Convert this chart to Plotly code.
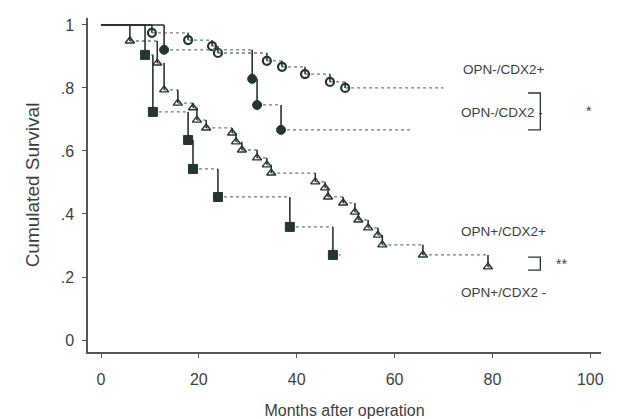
import plotly.graph_objects as go

# ---- data (months, cumulative survival) ----
neg_pos_months = [0, 10.4, 17.8, 22.7, 23.9, 33.9, 37.0, 41.7, 46.8, 49.9, 70.0]
neg_pos_surv = [1.0, 0.975, 0.952, 0.933, 0.911, 0.886, 0.867, 0.844, 0.819, 0.800, 0.800]

neg_neg_months = [0, 12.9, 30.9, 31.9, 36.8, 63.8]
neg_neg_surv = [1.0, 0.921, 0.829, 0.746, 0.667, 0.667]

pos_pos_months = [0, 5.9, 11.5, 12.9, 15.7, 18.8, 19.6, 21.5, 26.8, 27.6, 28.8, 31.9,
                  33.9, 34.8, 43.8, 45.8, 46.4, 49.5, 51.9, 52.6, 54.6, 56.6, 57.5,
                  65.8, 79.1, 80.3]
pos_pos_surv = [1.0, 0.949, 0.879, 0.794, 0.752, 0.737, 0.698, 0.673, 0.657, 0.629, 0.603,
                0.578, 0.556, 0.530, 0.502, 0.483, 0.454, 0.435, 0.406, 0.381, 0.356,
                0.333, 0.302, 0.270, 0.232, 0.232]

pos_neg_months = [0, 9.0, 10.6, 17.8, 18.8, 23.9, 38.6, 47.4, 49.0]
pos_neg_surv = [1.0, 0.905, 0.724, 0.635, 0.543, 0.454, 0.359, 0.270, 0.270]

x_ticks = [0, 20, 40, 60, 80, 100]
y_ticks = [0, 0.2, 0.4, 0.6, 0.8, 1.0]
y_tick_text = ["0", ".2", ".4", ".6", ".8", "1"]

DARK = "#25362d"
DOT = "#6b7a71"
TEXT = "#3b3f3c"
FONT = "Liberation Sans, Arial, sans-serif"

fig = go.Figure()


def add_curve(months, surv, symbol, size, lw):
    hx, hy, vx, vy = [], [], [], []
    for i in range(len(months) - 1):
        if i == 0:
            fig.add_trace(go.Scatter(x=[months[0], months[1]], y=[surv[0], surv[0]],
                                     mode="lines", line=dict(color=DARK, width=1.4),
                                     hoverinfo="skip", showlegend=False))
        else:
            hx += [months[i], months[i + 1], None]
            hy += [surv[i], surv[i], None]
        if surv[i + 1] != surv[i]:
            vx += [months[i + 1], months[i + 1], None]
            vy += [surv[i], surv[i + 1], None]
    fig.add_trace(go.Scatter(x=hx, y=hy, mode="lines",
                             line=dict(color=DOT, width=1.3, dash="dot"),
                             hoverinfo="skip", showlegend=False))
    fig.add_trace(go.Scatter(x=vx, y=vy, mode="lines",
                             line=dict(color=DARK, width=1.6),
                             hoverinfo="skip", showlegend=False))
    fig.add_trace(go.Scatter(x=months[1:-1], y=surv[1:-1], mode="markers",
                             marker=dict(symbol=symbol, size=size, color=DARK,
                                         line=dict(color=DARK, width=lw)),
                             showlegend=False))


add_curve(neg_pos_months, neg_pos_surv, "circle-open", 8, 2.2)
add_curve(neg_neg_months, neg_neg_surv, "circle", 9, 1)
add_curve(pos_pos_months, pos_pos_surv, "triangle-up-open", 8, 1.4)
add_curve(pos_neg_months, pos_neg_surv, "square", 9, 1)

labels = [
    ("OPN-/CDX2+", 82.4, 0.857),
    ("OPN-/CDX2 -", 82.0, 0.721),
    ("OPN+/CDX2+", 82.3, 0.343),
    ("OPN+/CDX2 -", 82.3, 0.152),
]
for txt, xx, yy in labels:
    fig.add_annotation(x=xx, y=yy, text=txt, showarrow=False,
                       font=dict(family=FONT, size=13.5, color=TEXT))

# significance brackets
for (y0, y1, star, sx) in [(0.784, 0.667, "*", 99.8), (0.263, 0.222, "**", 94.2)]:
    fig.add_shape(type="path",
                  path=f"M 87.3 {y0} L 89.8 {y0} L 89.8 {y1} L 87.3 {y1}",
                  line=dict(color=DARK, width=1.3))
    fig.add_annotation(x=sx, y=(y0 + y1) / 2, text=star, showarrow=False,
                       font=dict(family=FONT, size=14, color=TEXT))

fig.update_layout(
    width=626, height=419,
    margin=dict(l=88, r=25, t=18, b=67),
    plot_bgcolor="white", paper_bgcolor="white",
    font=dict(family=FONT, color=TEXT, size=15),
    showlegend=False,
)
fig.update_xaxes(
    range=[-2.66, 102.2], tickvals=x_ticks, ticks="outside", ticklen=4,
    tickcolor="#555", showline=True, linecolor="#555", linewidth=1.5,
    showgrid=False, zeroline=False, ticklabelstandoff=8, automargin=False,
    tickfont=dict(family=FONT, size=16, color=TEXT),
    title=dict(text="Months after operation", standoff=20,
               font=dict(family=FONT, size=16, color=TEXT)),
)
fig.update_yaxes(
    range=[-0.038, 1.022], tickvals=y_ticks, ticktext=y_tick_text, ticks="outside",
    ticklen=4, tickcolor="#555", showline=True, linecolor="#555", linewidth=1.5,
    showgrid=False, zeroline=False, ticklabelstandoff=5, automargin=False,
    tickfont=dict(family=FONT, size=16, color=TEXT),
    title=dict(text="Cumulated Survival", standoff=16,
               font=dict(family=FONT, size=19, color=TEXT)),
)

fig.write_html("out.html", config={"displayModeBar": False},
               post_script="document.body.style.margin='0px';document.body.style.overflow='hidden';")
